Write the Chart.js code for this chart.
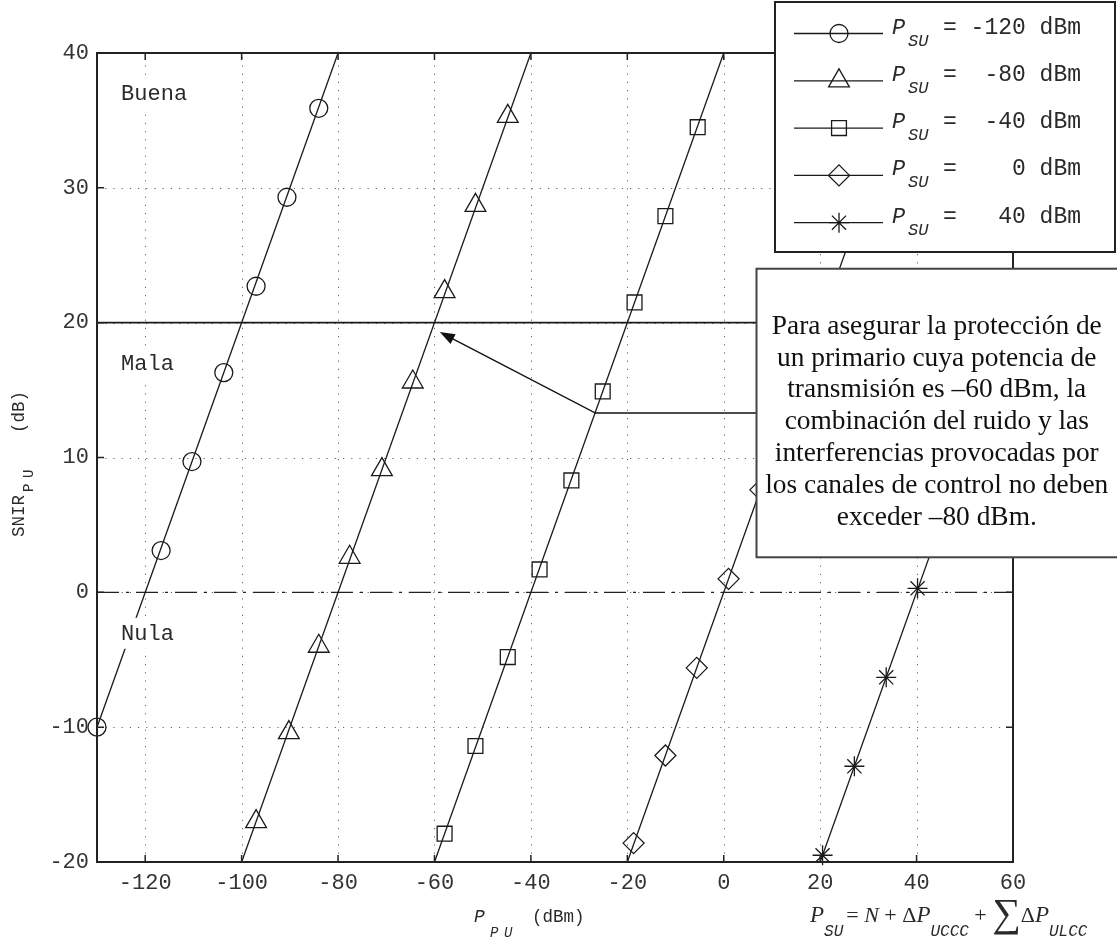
<!DOCTYPE html>
<html>
<head>
<meta charset="utf-8">
<script src="https://cdn.jsdelivr.net/npm/chart.js@4.4.0/dist/chart.umd.min.js"></script>
<style>
  html, body { margin: 0; padding: 0; background: #fff; }
  #wrap { width: 1117px; height: 944px; }
</style>
</head>
<body>
<div id="wrap"><canvas id="snir" width="1117" height="944"></canvas></div>
<script>
// SNIR del primario frente a P_PU, una recta por cada potencia P_SU
const xTicks = [-120, -100, -80, -60, -40, -20, 0, 20, 40, 60];
const yTicks = [-20, -10, 0, 10, 20, 30, 40];

const suLabels = ['-120', '-80', '-40', '0', '40'];
const suStyles = ['circle', 'triangle', 'rect', 'rectRot', 'star'];
const suRadius = [9, 12, 10.5, 10.5, 10];

// extremos de cada recta dentro del área
const lineX = [[-130, -80], [-100, -40], [-60, 0], [-20, 40], [20, 60]];
const lineY = [[-10, 40], [-20, 40], [-20, 40], [-20, 40], [-20, 20]];

// marcadores
const markX = [
  [-130, -116.7, -110.3, -103.7, -97.0, -90.6, -84.0],
  [-97.0, -90.2, -84.0, -77.6, -70.9, -64.5, -57.9, -51.5, -44.8],
  [-57.9, -51.5, -44.8, -38.2, -31.6, -25.1, -18.5, -12.1, -5.4],
  [-18.7, -12.1, -5.6, 1.0, 7.6],
  [20.5, 27.1, 33.7, 40.2]
];
const markY = [
  [-10, 3.1, 9.7, 16.3, 22.7, 29.3, 35.9],
  [-17.0, -10.4, -4.0, 2.6, 9.1, 15.6, 22.3, 28.7, 35.3],
  [-17.9, -11.4, -4.8, 1.7, 8.3, 14.9, 21.5, 27.9, 34.5],
  [-18.6, -12.1, -5.6, 1.0, 7.6],
  [-19.5, -12.9, -6.3, 0.3]
];

// zonas de calidad
const zoneNames = ['Buena', 'Mala', 'Nula'];
const zoneY = [37, 17, -3];
const zoneX = -125;
const limitY = 20;
const zeroY = 0;

// nota con flecha
const noteLines = [
  'Para asegurar la protección de',
  'un primario cuya potencia de',
  'transmisión es –60 dBm, la',
  'combinación del ruido y las',
  'interferencias provocadas por',
  'los canales de control no deben',
  'exceder –80 dBm.'
];
const arrowTip = { x: -58.9, y: 19.3 };
const arrowElbow = { x: -26.6, y: 13.3 };
const noteBox = { left: 6.8, top: 24.0, bottom: 2.6 };

const MONO = '"Liberation Mono", "Courier New", monospace';
const SERIF = '"Liberation Serif", "Times New Roman", serif';
const INK = '#1a1a1a';

const pts = (xs, ys) => xs.map((x, i) => ({ x: x, y: ys[i] }));

const datasets = [];
lineX.forEach((xs, i) => {
  datasets.push({
    data: pts(xs, lineY[i]),
    showLine: true,
    borderColor: INK,
    borderWidth: 1.3,
    pointRadius: 0
  });
  datasets.push({
    data: pts(markX[i], markY[i]),
    showLine: false,
    pointStyle: suStyles[i],
    pointRadius: suRadius[i],
    pointBorderColor: INK,
    pointBorderWidth: 1.3,
    pointBackgroundColor: 'rgba(0,0,0,0)',
    clip: false
  });
});
datasets.push({
  data: [{ x: -130, y: limitY }, { x: 60, y: limitY }],
  showLine: true, borderColor: INK, borderWidth: 1.8, pointRadius: 0
});
datasets.push({
  data: [{ x: -130, y: zeroY }, { x: 60, y: zeroY }],
  showLine: true, borderColor: '#222', borderWidth: 1.4, pointRadius: 0,
  borderDash: [22, 7, 3, 7]
});

function drawMarker(ctx, style, r, cx, cy) {
  ctx.beginPath();
  if (style === 'circle') {
    ctx.arc(cx, cy, r, 0, Math.PI * 2);
  } else if (style === 'triangle') {
    for (let k = 0; k < 3; k++) {
      const a = k * 2 * Math.PI / 3;
      const px = cx + Math.sin(a) * r, py = cy - Math.cos(a) * r;
      if (k === 0) ctx.moveTo(px, py); else ctx.lineTo(px, py);
    }
    ctx.closePath();
  } else if (style === 'rect') {
    const s = r * Math.SQRT1_2;
    ctx.rect(cx - s, cy - s, 2 * s, 2 * s);
  } else if (style === 'rectRot') {
    ctx.moveTo(cx - r, cy); ctx.lineTo(cx, cy - r);
    ctx.lineTo(cx + r, cy); ctx.lineTo(cx, cy + r);
    ctx.closePath();
  } else {
    for (let k = 0; k < 4; k++) {
      const a = k * Math.PI / 4;
      ctx.moveTo(cx - Math.cos(a) * r, cy - Math.sin(a) * r);
      ctx.lineTo(cx + Math.cos(a) * r, cy + Math.sin(a) * r);
    }
  }
  ctx.stroke();
}

const decor = {
  id: 'decor',
  beforeDatasetsDraw(chart) {
    const { ctx, chartArea: a, scales: { x, y } } = chart;
    ctx.save();
    ctx.strokeStyle = '#666';
    ctx.lineWidth = 1;
    ctx.setLineDash([1.2, 7]);
    xTicks.forEach(v => {
      const px = Math.round(x.getPixelForValue(v)) + 0.5;
      ctx.beginPath(); ctx.moveTo(px, a.bottom); ctx.lineTo(px, a.top); ctx.stroke();
    });
    yTicks.forEach(v => {
      const py = Math.round(y.getPixelForValue(v)) + 0.5;
      ctx.beginPath(); ctx.moveTo(a.left, py); ctx.lineTo(a.right, py); ctx.stroke();
    });
    ctx.restore();
  },
  afterDatasetsDraw(chart) {
    const { ctx, chartArea: a, scales: { x, y } } = chart;
    ctx.save();

    // marco y marcas hacia dentro
    ctx.strokeStyle = '#222';
    ctx.lineWidth = 2;
    ctx.strokeRect(a.left, a.top, a.right - a.left, a.bottom - a.top);
    ctx.lineWidth = 1.5;
    xTicks.forEach(v => {
      const px = x.getPixelForValue(v);
      ctx.beginPath();
      ctx.moveTo(px, a.bottom); ctx.lineTo(px, a.bottom - 7);
      ctx.moveTo(px, a.top); ctx.lineTo(px, a.top + 7);
      ctx.stroke();
    });
    yTicks.forEach(v => {
      const py = y.getPixelForValue(v);
      ctx.beginPath();
      ctx.moveTo(a.left, py); ctx.lineTo(a.left + 7, py);
      ctx.moveTo(a.right, py); ctx.lineTo(a.right - 7, py);
      ctx.stroke();
    });

    // etiquetas de zona sobre fondo blanco
    ctx.font = '22px ' + MONO;
    ctx.textBaseline = 'middle';
    ctx.textAlign = 'left';
    zoneNames.forEach((name, i) => {
      const tx = x.getPixelForValue(zoneX);
      const ty = y.getPixelForValue(zoneY[i]);
      const w = ctx.measureText(name).width;
      ctx.fillStyle = '#fff';
      ctx.fillRect(tx - 4, ty - 15, w + 8, 31);
      ctx.fillStyle = '#2a2a2a';
      ctx.fillText(name, tx, ty + 1);
    });

    // flecha de la nota
    const bx = x.getPixelForValue(noteBox.left);
    const tipX = x.getPixelForValue(arrowTip.x), tipY = y.getPixelForValue(arrowTip.y);
    const elX = x.getPixelForValue(arrowElbow.x), elY = y.getPixelForValue(arrowElbow.y);
    ctx.strokeStyle = '#111';
    ctx.fillStyle = '#111';
    ctx.lineWidth = 1.4;
    const ang = Math.atan2(tipY - elY, tipX - elX);
    const hl = 15, hw = 5.5;
    ctx.beginPath();
    ctx.moveTo(bx, elY); ctx.lineTo(elX, elY);
    ctx.lineTo(tipX - Math.cos(ang) * hl * 0.8, tipY - Math.sin(ang) * hl * 0.8);
    ctx.stroke();
    ctx.beginPath();
    ctx.moveTo(tipX, tipY);
    ctx.lineTo(tipX - Math.cos(ang) * hl - Math.sin(ang) * hw, tipY - Math.sin(ang) * hl + Math.cos(ang) * hw);
    ctx.lineTo(tipX - Math.cos(ang) * hl + Math.sin(ang) * hw, tipY - Math.sin(ang) * hl - Math.cos(ang) * hw);
    ctx.closePath();
    ctx.fill();

    // caja de la nota
    const bt = y.getPixelForValue(noteBox.top), bb = y.getPixelForValue(noteBox.bottom);
    const br = chart.width + 3;
    ctx.fillStyle = '#fff';
    ctx.fillRect(bx, bt, br - bx, bb - bt);
    ctx.strokeStyle = '#444';
    ctx.lineWidth = 2;
    ctx.strokeRect(bx, bt, br - bx, bb - bt);
    ctx.font = '22px ' + SERIF;
    const fit = 22 * 330 / ctx.measureText(noteLines[0]).width;
    ctx.font = fit.toFixed(1) + 'px ' + SERIF;
    ctx.fillStyle = '#111';
    ctx.textAlign = 'center';
    ctx.textBaseline = 'alphabetic';
    const cx = (bx + chart.width) / 2;
    noteLines.forEach((t, i) => ctx.fillText(t, cx, bt + 65 + i * 31.8));

    // leyenda
    const L = { left: 775, top: 2, right: 1115, bottom: 252 };
    ctx.fillStyle = '#fff';
    ctx.fillRect(L.left, L.top, L.right - L.left, L.bottom - L.top);
    ctx.strokeStyle = '#222';
    ctx.lineWidth = 2;
    ctx.strokeRect(L.left, L.top, L.right - L.left, L.bottom - L.top);
    suLabels.forEach((lab, i) => {
      const ey = 33.5 + i * 47.3;
      ctx.strokeStyle = INK;
      ctx.lineWidth = 1.3;
      ctx.beginPath(); ctx.moveTo(794, ey); ctx.lineTo(883, ey); ctx.stroke();
      drawMarker(ctx, suStyles[i], suRadius[i], 839, ey);
      ctx.fillStyle = '#2a2a2a';
      ctx.textAlign = 'left';
      ctx.textBaseline = 'alphabetic';
      ctx.font = 'italic 22px ' + MONO;
      ctx.fillText('P', 892, ey);
      ctx.font = 'italic 17px ' + MONO;
      ctx.fillText('SU', 908, ey + 12);
      ctx.font = '23px ' + MONO;
      ctx.fillText('= ' + lab.padStart(4, ' ') + ' dBm', 943, ey);
    });

    ctx.restore();
  },
  afterDraw(chart) {
    const { ctx } = chart;
    ctx.save();
    ctx.fillStyle = '#2a2a2a';
    ctx.textBaseline = 'alphabetic';
    ctx.textAlign = 'left';

    // título eje y (girado)
    ctx.translate(24, 537);
    ctx.rotate(-Math.PI / 2);
    ctx.font = '17.5px ' + MONO;
    ctx.fillText('SNIR', 0, 0);
    ctx.font = '14px ' + MONO;
    ctx.fillText('P', 45, 9);
    ctx.fillText('U', 59, 9);
    ctx.font = '17.5px ' + MONO;
    ctx.fillText('(dB)', 104, 0);
    ctx.setTransform(1, 0, 0, 1, 0, 0);

    // título eje x
    ctx.font = 'italic 18px ' + MONO;
    ctx.fillText('P', 474, 922);
    ctx.font = 'italic 14px ' + MONO;
    ctx.fillText('P', 490, 937);
    ctx.fillText('U', 504, 937);
    ctx.font = '17.5px ' + MONO;
    ctx.fillText('(dBm)', 532, 922);

    // expresión de P_SU
    let fx = 810;
    const part = (txt, font, dy) => {
      ctx.font = font;
      ctx.fillText(txt, fx, 922 + (dy || 0));
      fx += ctx.measureText(txt).width;
    };
    part('P', 'italic 23px ' + SERIF);
    part('SU', 'italic 16px ' + MONO, 14);
    fx += 3;
    part('= ', '22px ' + SERIF);
    part('N', 'italic 22px ' + SERIF);
    part(' + Δ', '22px ' + SERIF);
    part('P', 'italic 23px ' + SERIF);
    part('UCCC', 'italic 16px ' + MONO, 14);
    part(' + ', '22px ' + SERIF);
    part('∑', '40px ' + SERIF, 4);
    part('Δ', '22px ' + SERIF);
    part('P', 'italic 23px ' + SERIF);
    part('ULCC', 'italic 16px ' + MONO, 14);

    ctx.restore();
  }
};

new Chart(document.getElementById('snir'), {
  type: 'scatter',
  data: { datasets: datasets },
  options: {
    responsive: false,
    devicePixelRatio: 1,
    animation: false,
    events: [],
    layout: { padding: { left: 0, top: 53, right: 104, bottom: 0 } },
    plugins: { legend: { display: false }, tooltip: { enabled: false } },
    scales: {
      x: {
        type: 'linear', min: -130, max: 60,
        afterBuildTicks: s => { s.ticks = xTicks.map(v => ({ value: v })); },
        afterFit: s => { s.height = 82; },
        grid: { display: false, drawTicks: false },
        border: { display: false },
        ticks: {
          padding: 8, maxRotation: 0, autoSkip: false, color: '#333',
          font: { family: MONO, size: 22 }
        }
      },
      y: {
        type: 'linear', min: -20, max: 40,
        afterBuildTicks: s => { s.ticks = yTicks.map(v => ({ value: v })); },
        afterFit: s => { s.width = 97; },
        grid: { display: false, drawTicks: false },
        border: { display: false },
        ticks: {
          padding: 8, color: '#333',
          font: { family: MONO, size: 22 }
        }
      }
    }
  },
  plugins: [decor]
});
</script>
</body>
</html>
